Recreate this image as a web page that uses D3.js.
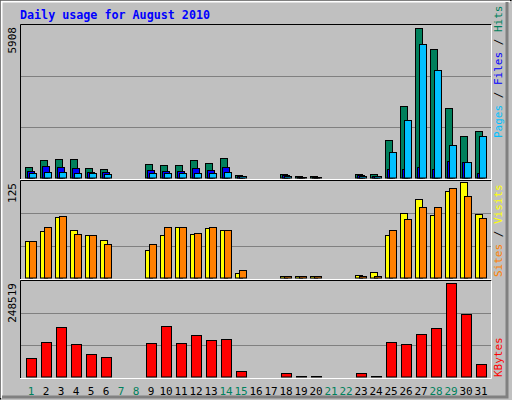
<!DOCTYPE html>
<html><head><meta charset="utf-8">
<script src="https://d3js.org/d3.v7.min.js"></script>
<style>body{margin:0;background:#fff}text{font-family:"DejaVu Sans Mono",monospace}</style>
</head><body>
<script>
// Daily usage chart, webalizer style
var days = d3.range(1, 32);
var weekend = [1, 7, 8, 14, 15, 21, 22, 28, 29];
var hits  = [377,650,688,688,338,300,0,0,493,455,455,650,532,727,78,0,0,117,30,30,0,0,117,117,1426,2746,5741,4925,2668,1581,1776];
var files = [220,415,377,338,183,183,0,0,260,220,220,338,260,377,40,0,0,80,15,15,0,0,60,40,311,311,389,311,610,571,155];
var pages = [144,183,194,168,160,117,0,0,160,160,160,160,160,194,20,0,0,50,10,10,0,0,30,20,960,2203,5117,4120,1232,560,1581];
var visits = [47,59,77,60,54,48,0,0,35,54,64,56,63,60,5,0,0,1,1,1,0,0,3,7,54,82,101,80,111,122,81];
var sites  = [46,64,79,56,54,42,0,0,42,64,65,57,64,61,9,0,0,1,1,1,0,0,1,1,60,75,90,90,115,105,76];
var kbytes = [46300,88160,127400,82900,56800,48900,0,0,85500,130000,85500,106500,93400,96000,12300,0,0,7000,1000,1000,0,0,7000,1000,88160,82900,109000,124800,239900,161400,30600];
var maxes = [5908, 125, 248519];

var w = 512, h = 400;
var svg = d3.select("body").append("svg").attr("width", w).attr("height", h);

// frame
svg.append("rect").attr("width", w).attr("height", h).attr("fill", "#c0c0c0");
svg.append("path").attr("d", "M0.5,399.5V0.5H511.5").attr("stroke", "#000").attr("fill", "none");
svg.append("path").attr("d", "M1.5,398V1.5H510").attr("stroke", "#fff").attr("stroke-width", 2).attr("fill", "none");
svg.append("path").attr("d", "M507,2V397H2").attr("stroke", "#808080").attr("stroke-width", 3).attr("fill", "none");

svg.append("text").attr("x", 20).attr("y", 19).attr("fill", "#0000ff")
    .attr("font-weight", "bold").attr("font-size", "11.7px").text("Daily usage for August 2010");

var x = d3.scaleLinear().domain([1, 32]).range([25, 25 + 31 * 15]);

var panels = [
    {top: 25, bottom: 178},
    {top: 181, bottom: 278},
    {top: 281, bottom: 377}
];

panels.forEach(function(p, i) {
    p.y = d3.scaleLinear().domain([0, maxes[i]]).range([p.bottom, p.top]);
    svg.append("path").attr("d", "M20.5," + (p.bottom + 1.5) + "V" + (p.top - 0.5) + "H491.5")
        .attr("stroke", "#000").attr("fill", "none");
    svg.append("path").attr("d", "M20," + (p.bottom + 1.5) + "H491.5V" + (p.top - 0.5))
        .attr("stroke", "#fff").attr("fill", "none");
    [1 / 3, 2 / 3].forEach(function(f) {
        var gy = Math.round(p.y(maxes[i] * f)) + 0.5;
        svg.append("line").attr("x1", 21).attr("x2", 491).attr("y1", gy).attr("y2", gy)
            .attr("stroke", "#808080");
    });
    svg.append("text").attr("transform", "translate(16," + (p.top + 2) + ") rotate(-90)")
        .attr("text-anchor", "end").attr("font-size", "11px").text(maxes[i]);
});

function bars(data, panel, dx, bw, color) {
    var p = panels[panel];
    svg.append("g").selectAll("rect").data(data).enter().append("rect")
        .attr("x", function(d, i) { return x(days[i]) + dx + 0.5; })
        .attr("width", bw)
        .attr("y", function(d) { return Math.round(p.y(d)) - 0.5; })
        .attr("height", function(d) { return p.bottom - Math.round(p.y(d)) + 0.5; })
        .attr("fill", color).attr("stroke", "#000")
        .style("display", function(d) { return d > 0 ? null : "none"; });
}

bars(hits, 0, 0, 7, "#00805c");
bars(files, 0, 2, 7, "#0000ff");
bars(pages, 0, 4, 7, "#00c0ff");
bars(visits, 1, 0, 7, "#ffff00");
bars(sites, 1, 4, 7, "#ff8000");
bars(kbytes, 2, 1, 10, "#ff0000");

svg.append("g").selectAll("text").data(days).enter().append("text")
    .attr("x", function(d) { return x(d) + 6; })
    .attr("y", 395).attr("text-anchor", "middle").attr("font-size", "11px")
    .attr("fill", function(d) { return weekend.indexOf(d) >= 0 ? "#00805c" : "#000"; })
    .text(function(d) { return d; });

function sideLabel(yBottom, parts) {
    var t = svg.append("text").attr("transform", "translate(502," + yBottom + ") rotate(-90)")
        .attr("font-size", "11px").attr("xml:space", "preserve").style("white-space", "pre");
    parts.forEach(function(pt) {
        t.append("tspan").attr("fill", pt[1]).text(pt[0]);
    });
}
sideLabel(138, [["Pages", "#00c0ff"], [" / ", "#000"], ["Files", "#0000ff"], [" / ", "#000"], ["Hits", "#00805c"]]);
sideLabel(277, [["Sites", "#ff8000"], [" / ", "#000"], ["Visits", "#ffff00"]]);
sideLabel(377, [["KBytes", "#ff0000"]]);
</script>
</body></html>
